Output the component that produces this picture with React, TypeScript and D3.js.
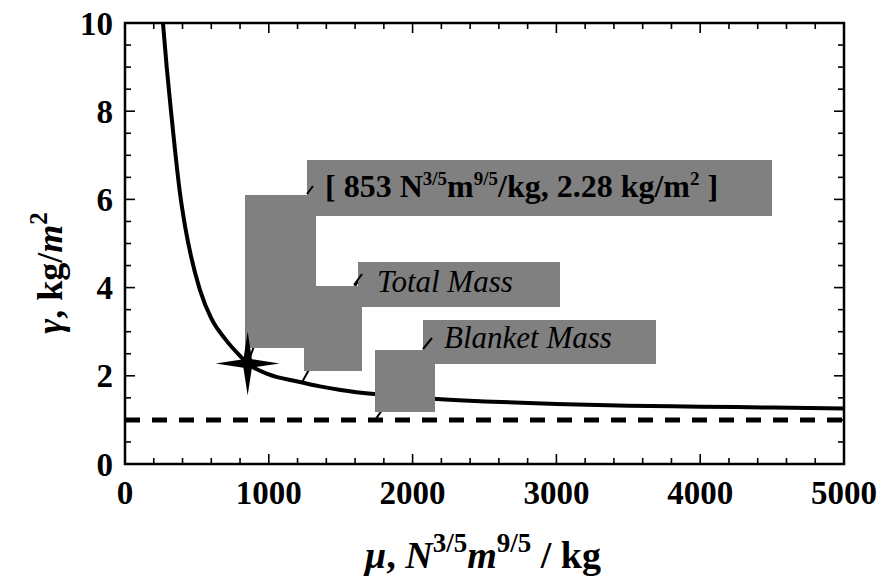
import React from "react";
import * as d3 from "d3";

// ---- data ----
const muValues = [264, 290, 320, 350, 382, 420, 460, 521, 600, 700, 800, 853, 1000, 1200, 1356, 1500, 1750, 2000, 2500, 3000, 3500, 4000, 4500, 5000];
const gammaValues = [10, 9.0, 8.0, 7.05, 6.15, 5.35, 4.7, 3.95, 3.3, 2.82, 2.45, 2.28, 2.03, 1.87, 1.76, 1.68, 1.58, 1.51, 1.42, 1.36, 1.32, 1.30, 1.28, 1.26];
const blanketMass = [1.0, 1.0];
const blanketMu = [0, 5000];
const optimum = { mu: 853, gamma: 2.28 };
const xTicks = [0, 1000, 2000, 3000, 4000, 5000];
const yTicks = [0, 2, 4, 6, 8, 10];
const xMinor = d3.range(0, 5001, 200);
const yMinor = d3.range(0, 10.01, 0.5);

const W = 883, H = 578;
const L = 125, R = 844, T = 23, B = 464;

export default function App() {
  const x = d3.scaleLinear().domain([0, 5000]).range([L, R]);
  const y = d3.scaleLinear().domain([0, 10]).range([B, T]);
  const pts = muValues.map((m, i) => [m, gammaValues[i]] as [number, number]);
  const line = d3.line<[number, number]>().x(d => x(d[0])).y(d => y(d[1])).curve(d3.curveMonotoneX);
  const dashPts = blanketMu.map((m, i) => [m, blanketMass[i]] as [number, number]);

  const sx = x(optimum.mu), sy = y(optimum.gamma);
  const starPts = d3.range(8).map(i => {
    const a = (i * Math.PI) / 4;
    const r = i % 2 === 0 ? 32 : 6;
    return [sx + r * Math.cos(a), sy + r * Math.sin(a)];
  });
  const starPath = "M" + starPts.map(p => p.join(",")).join("L") + "Z";

  const serif = "'Liberation Serif', 'Times New Roman', serif";
  const grey = "#808080";

  // leader targets
  const tmX = x(1230), tmY = y(1.85);
  const bmX = x(1740), bmY = y(1.0);

  return (
    <svg width={W} height={H} style={{ position: "absolute", left: 0, top: 0, background: "#fff" }} fontFamily={serif}>
      <defs>
        <clipPath id="plot"><rect x={L} y={T} width={R - L} height={B - T} /></clipPath>
      </defs>
      {/* minor & major ticks on all sides */}
      <g stroke="#000" strokeWidth={1.6}>
        {xMinor.map(v => {
          const major = v % 1000 === 0;
          const len = major ? 10 : 6;
          return (
            <g key={"xm" + v}>
              <line x1={x(v)} x2={x(v)} y1={B} y2={B - len} />
              <line x1={x(v)} x2={x(v)} y1={T} y2={T + len} />
            </g>
          );
        })}
        {yMinor.map(v => {
          const major = Math.abs(v % 2) < 1e-6;
          const len = major ? 10 : 6;
          return (
            <g key={"ym" + v}>
              <line x1={L} x2={L + len} y1={y(v)} y2={y(v)} />
              <line x1={R} x2={R - len} y1={y(v)} y2={y(v)} />
            </g>
          );
        })}
      </g>
      <g clipPath="url(#plot)">
        <path d={line(dashPts) || ""} fill="none" stroke="#000" strokeWidth={5} strokeDasharray="15 12" />
        <path d={line(pts) || ""} fill="none" stroke="#000" strokeWidth={4} />
      </g>
      <rect x={L} y={T} width={R - L} height={B - T} fill="none" stroke="#000" strokeWidth={2.5} />

      {/* leader lines */}
      <g stroke="#000" strokeWidth={2}>
        <line x1={313} y1={186} x2={sx} y2={sy} />
        <line x1={362} y1={274} x2={tmX} y2={tmY} />
        <line x1={432} y1={338} x2={bmX} y2={bmY} />
      </g>

      {/* grey masks */}
      <g fill={grey}>
        <rect x={245} y={195} width={71} height={153} />
        <rect x={304} y={286} width={58} height={85} />
        <rect x={375} y={350} width={60} height={62} />
        <rect x={307} y={160} width={465} height={56} />
        <rect x={358} y={262} width={202} height={45} />
        <rect x={423} y={320} width={233} height={44} />
      </g>
      <g stroke="#000" strokeWidth={2}>
        <line x1={313} y1={186} x2={307} y2={194} />
        <line x1={362} y1={274} x2={354} y2={285} />
        <line x1={432} y1={338} x2={423} y2={349} />
      </g>

      <path d={starPath} fill="#000" />

      {/* annotation texts */}
      <text x={325} y={197} fontSize={32} fontWeight="bold" fill="#000">
        [ 853 N<tspan dy={-12} fontSize={19}>3/5</tspan><tspan dy={12}>m</tspan><tspan dy={-12} fontSize={19}>9/5</tspan><tspan dy={12}>/kg, 2.28 kg/m</tspan><tspan dy={-12} fontSize={19}>2</tspan><tspan dy={12}> ]</tspan>
      </text>
      <text x={377} y={292} fontSize={31} fontStyle="italic" fill="#000">Total Mass</text>
      <text x={444} y={348} fontSize={31} fontStyle="italic" fill="#000">Blanket Mass</text>

      {/* tick labels */}
      <g fontSize={33} fontWeight="bold" fill="#000">
        {xTicks.map(v => (
          <text key={"xt" + v} x={x(v)} y={504} textAnchor="middle">{v}</text>
        ))}
        {yTicks.map(v => (
          <text key={"yt" + v} x={113} y={y(v)} dy="0.35em" textAnchor="end">{v}</text>
        ))}
      </g>

      {/* axis titles */}
      <text x={483} y={568} fontSize={38} fontWeight="bold" textAnchor="middle" fill="#000">
        <tspan fontStyle="italic">μ</tspan>, <tspan fontStyle="italic">N</tspan><tspan dy={-16} fontSize={27}>3/5</tspan><tspan dy={16} fontStyle="italic">m</tspan><tspan dy={-16} fontSize={27}>9/5</tspan><tspan dy={16}> / kg</tspan>
      </text>
      <text transform="translate(62,273) rotate(-90)" fontSize={36} fontWeight="bold" textAnchor="middle" fill="#000">
        <tspan fontStyle="italic">γ</tspan>, kg/<tspan fontStyle="italic">m</tspan><tspan dy={-15} fontSize={25}>2</tspan>
      </text>
    </svg>
  );
}
